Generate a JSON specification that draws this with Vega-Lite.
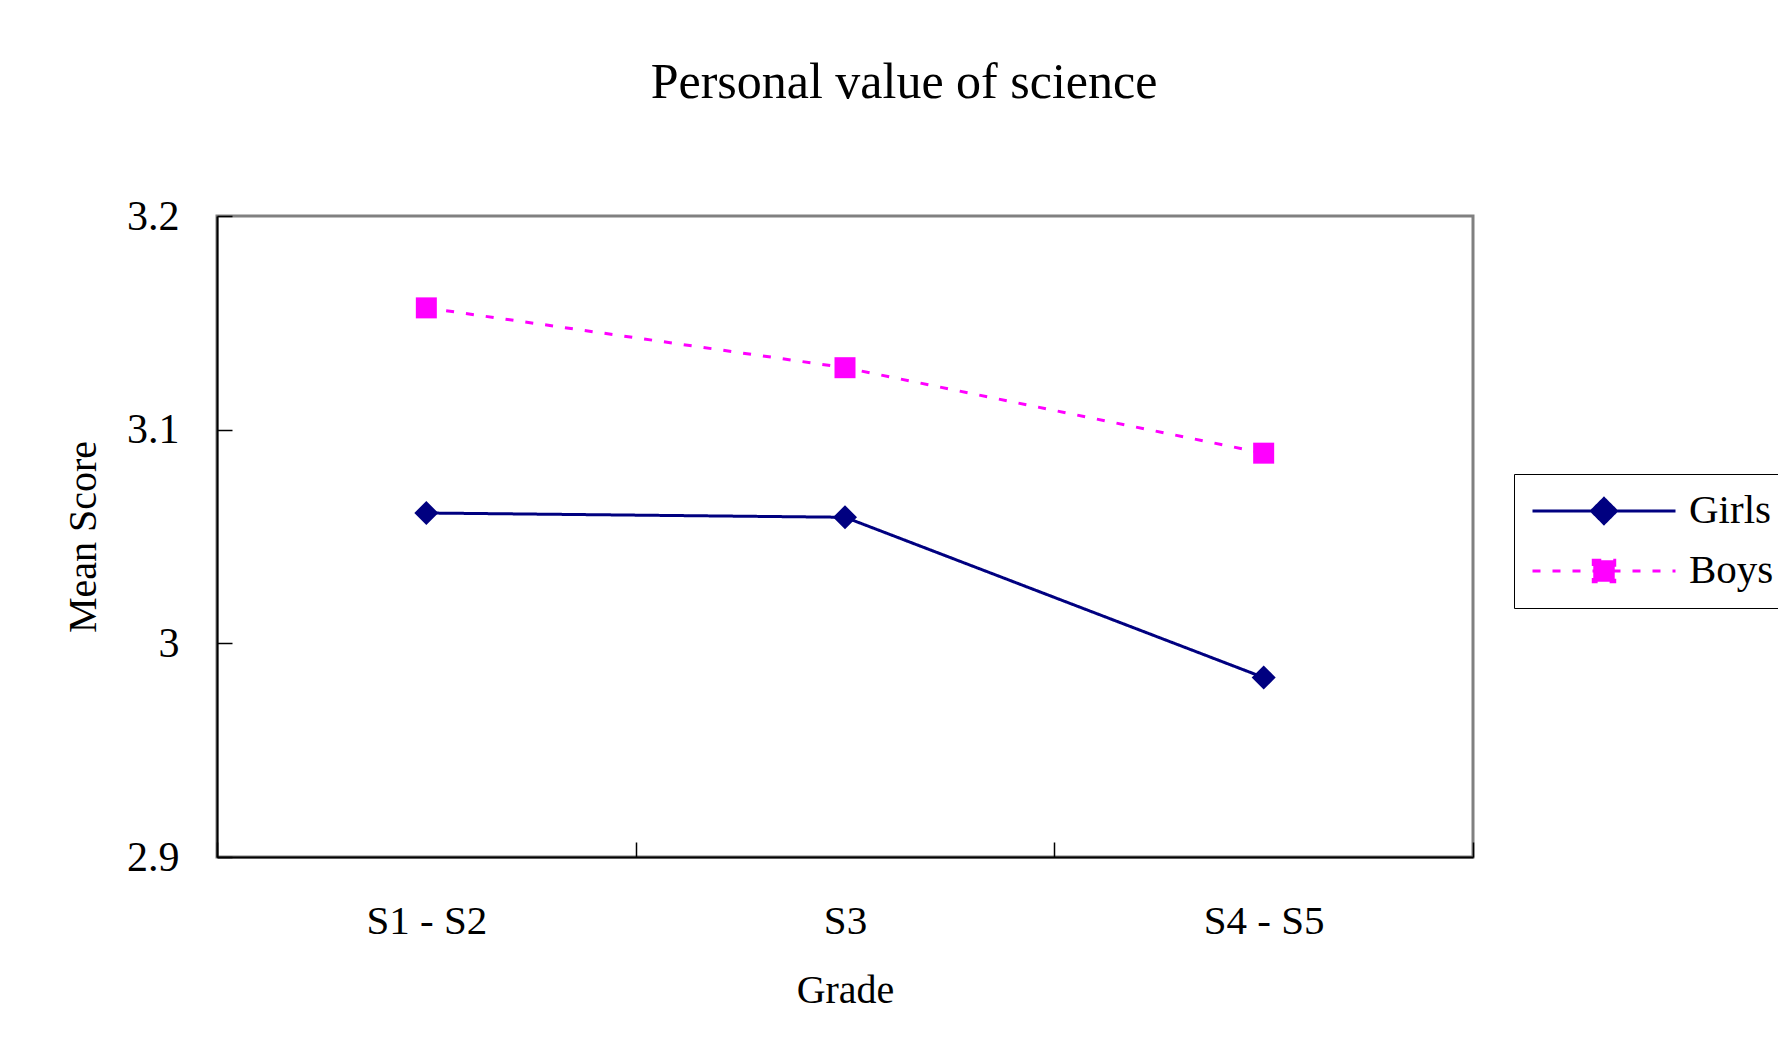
{
  "$schema": "https://vega.github.io/schema/vega-lite/v6.json",
  "autosize": {"type": "none"},
  "width": 1256,
  "height": 641,
  "padding": {"left": 217, "top": 216, "right": 305, "bottom": 201},
  "background": "white",
  "title": {
    "text": "Personal value of science",
    "font": "Liberation Serif",
    "fontSize": 50,
    "fontWeight": "normal",
    "color": "black",
    "anchor": "middle",
    "frame": "group",
    "dx": 59,
    "offset": 87
  },
  "data": {
    "values": [
      {"grade": "S1 - S2", "series": "Girls", "score": 3.061},
      {"grade": "S3", "series": "Girls", "score": 3.059},
      {"grade": "S4 - S5", "series": "Girls", "score": 2.984},
      {"grade": "S1 - S2", "series": "Boys", "score": 3.157},
      {"grade": "S3", "series": "Boys", "score": 3.129},
      {"grade": "S4 - S5", "series": "Boys", "score": 3.089}
    ]
  },
  "encoding": {
    "x": {
      "field": "grade",
      "type": "ordinal",
      "sort": ["S1 - S2", "S3", "S4 - S5"],
      "scale": {"type": "band", "paddingInner": 0, "paddingOuter": 0},
      "axis": {
        "title": "Grade",
        "labelAngle": 0,
        "tickBand": "extent",
        "tickSize": -15,
        "tickColor": "black",
        "tickWidth": 1.5,
        "domainColor": "black",
        "domainWidth": 2,
        "labelFont": "Liberation Serif",
        "labelFontSize": 41,
        "labelColor": "black",
        "labelBaseline": "middle",
        "labelPadding": 79,
        "titleFont": "Liberation Serif",
        "titleFontSize": 40,
        "titleFontWeight": "normal",
        "titleColor": "black",
        "titleX": 628,
        "titleY": 133,
        "titleBaseline": "middle",
        "titleAlign": "center"
      }
    },
    "y": {
      "field": "score",
      "type": "quantitative",
      "scale": {"domain": [2.9, 3.2], "nice": false, "zero": false},
      "axis": {
        "title": "Mean Score",
        "values": [2.9, 3.0, 3.1, 3.2],
        "format": ".2~f",
        "grid": false,
        "tickSize": -15,
        "tickColor": "black",
        "tickWidth": 1.5,
        "domainColor": "black",
        "domainWidth": 2,
        "labelFont": "Liberation Serif",
        "labelFontSize": 42,
        "labelColor": "black",
        "labelPadding": 53,
        "titleFont": "Liberation Serif",
        "titleFontSize": 40,
        "titleFontWeight": "normal",
        "titleColor": "black",
        "titleX": -134,
        "titleY": 320.5,
        "titleAngle": 270,
        "titleBaseline": "middle",
        "titleAlign": "center"
      }
    },
    "color": {
      "field": "series",
      "type": "nominal",
      "scale": {"domain": ["Girls", "Boys"], "range": ["#000080", "#FF00FF"]},
      "legend": {
        "title": null,
        "orient": "none",
        "legendX": 1297,
        "legendY": 258,
        "padding": 17,
        "strokeColor": "black",
        "fillColor": "white",
        "symbolSize": 20449,
        "symbolStrokeWidth": 3,
        "symbolOpacity": 1,
        "clipHeight": 40,
        "rowPadding": 19,
        "labelOffset": 12,
        "labelFont": "Liberation Serif",
        "labelFontSize": 41,
        "labelColor": "black"
      }
    }
  },
  "layer": [
    {
      "mark": {"type": "line", "strokeWidth": 3},
      "encoding": {
        "strokeDash": {
          "field": "series",
          "type": "nominal",
          "scale": {"domain": ["Girls", "Boys"], "range": [[1, 0], [8, 12]]},
          "legend": null
        }
      }
    },
    {
      "mark": {"type": "point", "filled": true, "opacity": 1, "size": 0.01},
      "encoding": {
        "shape": {
          "field": "series",
          "type": "nominal",
          "scale": {"domain": ["Girls", "Boys"], "range": ["M-1,0L1,0M0,-0.175L0.175,0L0,0.175L-0.175,0Z", "M-1,0L1,0M-0.15,-0.15L0.15,-0.15L0.15,0.15L-0.15,0.15Z"]}
        }
      }
    },
    {
      "transform": [{"filter": "datum.series === 'Girls'"}],
      "mark": {"type": "point", "filled": true, "opacity": 1, "shape": "diamond", "size": 576}
    },
    {
      "transform": [{"filter": "datum.series === 'Boys'"}],
      "mark": {"type": "point", "filled": true, "opacity": 1, "shape": "square", "size": 441}
    }
  ],
  "config": {
    "view": {"stroke": "#808080", "strokeWidth": 3}
  }
}
